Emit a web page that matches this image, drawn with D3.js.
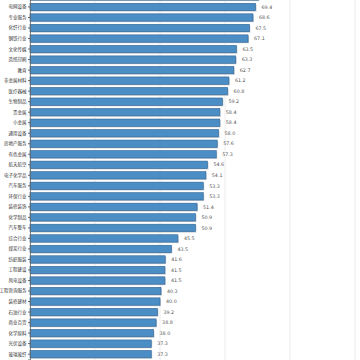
<!DOCTYPE html>
<html>
<head>
<meta charset="utf-8">
<script src="https://cdn.jsdelivr.net/npm/d3@7"></script>
<style>
html,body{margin:0;padding:0;background:#fff;overflow:hidden;}
svg{display:block;}
</style>
</head>
<body>
<div id="chart"></div>
<script>
const categories = ["电力行业","电网设备","专业服务","化纤行业","钢铁行业","文化传媒","造纸印刷","教育","非金属材料","医疗器械","生物制品","贵金属","小金属","通用设备","房地产服务","有色金属","航天航空","电子化学品","汽车服务","环保行业","装修装饰","化学制品","汽车整车","综合行业","煤炭行业","纺织服装","工程建设","风电设备","工程咨询服务","装修建材","石油行业","商业百货","化学原料","光伏设备","玻璃玻纤"];
const values = [70.3,69.4,68.6,67.5,67.1,63.5,63.3,62.7,61.2,60.8,59.2,58.4,58.4,58.0,57.6,57.3,54.6,54.1,53.3,53.3,51.4,50.9,50.9,45.5,43.5,41.6,41.5,41.5,40.3,40.0,39.2,38.8,38.0,37.3,37.3];
const xTicks = [0,20,40,60,80,100];

const W = 360, H = 360;
const svg = d3.select("#chart").append("svg").attr("width", W).attr("height", H);

const x = d3.scaleLinear().domain([0,100]).range([30,355]);
const step = 10.52;
const y = d3.scaleBand().domain(categories)
  .range([-8.8, -8.8 + step*categories.length]).paddingInner(0.3).paddingOuter(0.15);

// grid
svg.append("g").selectAll("line").data(xTicks).join("line")
  .attr("x1", d=>x(d)).attr("x2", d=>x(d))
  .attr("y1", 0).attr("y2", H)
  .attr("stroke", "#ececec").attr("stroke-width", 1);

const data = categories.map((c,i)=>({c, v: values[i]}));

// shadow
svg.append("g").selectAll("rect").data(data).join("rect")
  .attr("x", x(0)).attr("y", d=>y(d.c)+1)
  .attr("width", d=>x(d.v)-x(0)+1).attr("height", y.bandwidth())
  .attr("fill", "#c9ced3");

svg.append("g").selectAll("rect").data(data).join("rect")
  .attr("x", x(0)).attr("y", d=>y(d.c))
  .attr("width", d=>x(d.v)-x(0)).attr("height", y.bandwidth())
  .attr("fill", "#4b8dc5").attr("stroke", "#2f6394").attr("stroke-width", 0.6);

// value labels
svg.append("g").selectAll("text").data(data).join("text")
  .attr("x", d=>x(d.v)+6).attr("y", d=>y(d.c)+y.bandwidth()/2)
  .attr("dy", "0.35em")
  .attr("font-family", "DejaVu Sans, sans-serif").attr("font-size", 4.8)
  .attr("fill", "#555")
  .text(d=>d.v.toFixed(1));

// y axis
const yAxis = d3.axisLeft(y).tickSize(2).tickPadding(1.5);
const gy = svg.append("g").attr("transform", `translate(${x(0)},0)`).call(yAxis);
gy.select(".domain").attr("stroke", "#666").attr("stroke-width", 0.8);
gy.selectAll(".tick line").attr("stroke", "#666");
gy.selectAll(".tick text").attr("font-family", "Noto Sans CJK SC, sans-serif")
  .attr("font-size", 4.5).attr("fill", "#333");
</script>
</body>
</html>
